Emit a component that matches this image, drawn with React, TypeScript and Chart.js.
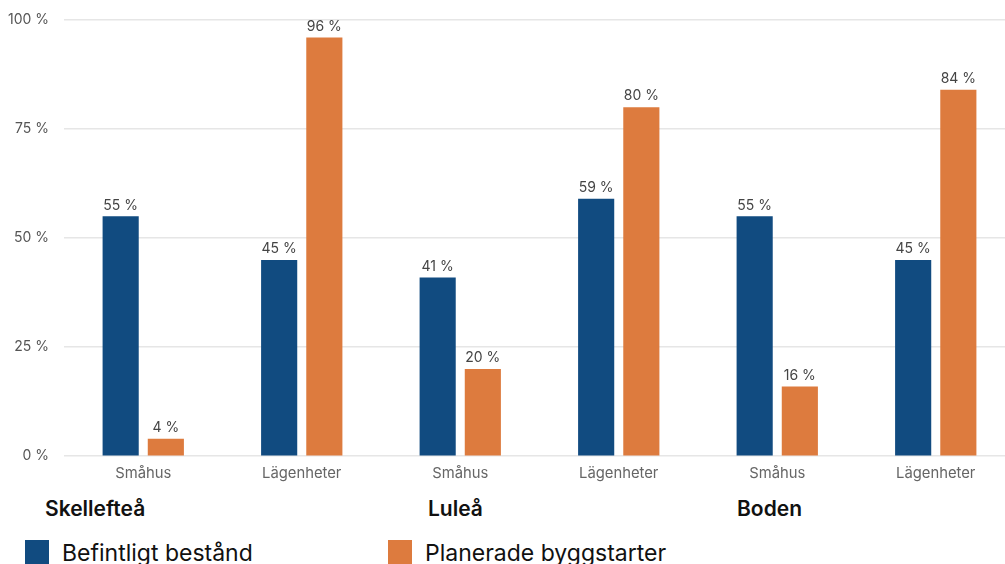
import React, { useEffect, useRef } from "react";
import { Chart, registerables } from "chart.js";

Chart.register(...registerables);

// Housing type on the x axis, two per municipality
const categories = ["Småhus", "Lägenheter", "Småhus", "Lägenheter", "Småhus", "Lägenheter"];
const municipalities = ["Skellefteå", "Luleå", "Boden"];

// Share in percent
const befintligt = [55, 45, 41, 59, 55, 45];
const planerade = [4, 96, 20, 80, 16, 84];

const seriesNames = ["Befintligt bestånd", "Planerade byggstarter"];
const seriesColors = ["#114b80", "#dd7b3e"];

const yTicks = [0, 25, 50, 75, 100];

const FONT = "Inter, 'Noto Sans', sans-serif";

// Horizontal placement of the municipality captions and legend items
const captionLeft = [45, 428, 737];
const legendLeft = [25, 388];

const valueLabels = {
  id: "valueLabels",
  afterDatasetsDraw(chart: any) {
    const ctx = chart.ctx;
    ctx.save();
    ctx.font = `400 14px ${FONT}`;
    ctx.fillStyle = "#444444";
    ctx.textAlign = "center";
    ctx.textBaseline = "bottom";
    chart.data.datasets.forEach((ds: any, i: number) => {
      const meta = chart.getDatasetMeta(i);
      meta.data.forEach((bar: any, j: number) => {
        ctx.fillText(`${ds.data[j]} %`, bar.x, bar.y - 4);
      });
    });
    ctx.restore();
  },
};

function BarChart() {
  const ref = useRef<HTMLCanvasElement>(null);

  useEffect(() => {
    if (!ref.current) return;
    const chart = new Chart(ref.current, {
      type: "bar",
      data: {
        labels: categories,
        datasets: [
          {
            label: seriesNames[0],
            data: befintligt,
            backgroundColor: seriesColors[0],
            categoryPercentage: 0.57,
            barPercentage: 0.8,
          },
          {
            label: seriesNames[1],
            data: planerade,
            backgroundColor: seriesColors[1],
            categoryPercentage: 0.57,
            barPercentage: 0.8,
          },
        ],
      },
      options: {
        responsive: false,
        animation: false,
        layout: { autoPadding: false, padding: { left: 8, top: 20, right: 0, bottom: 0 } },
        plugins: {
          legend: { display: false },
          tooltip: { enabled: false },
        },
        scales: {
          x: {
            grid: { display: false, drawTicks: false },
            border: { display: false },
            ticks: {
              color: "#666666",
              font: { family: FONT, size: 14.8 },
              padding: 8,
            },
          },
          y: {
            min: 0,
            max: 100,
            afterBuildTicks(axis: any) {
              axis.ticks = yTicks.map((v) => ({ value: v }));
            },
            afterFit(axis: any) {
              axis.width = 56;
              axis.paddingTop = 0;
              axis.paddingBottom = 0;
            },
            grid: { color: "#e6e6e6", lineWidth: 1.5, drawTicks: false },
            border: { display: false },
            ticks: {
              color: "#555555",
              font: { family: FONT, size: 14 },
              padding: 15,
              callback: (v: any) => `${v} %`,
            },
          },
        },
      },
      plugins: [valueLabels],
    });
    return () => chart.destroy();
  }, []);

  return <canvas ref={ref} width={1015} height={490} style={{ display: "block" }} />;
}

export default function App() {
  return (
    <div
      style={{
        position: "fixed",
        left: 0,
        top: 0,
        width: 1005,
        height: 564,
        overflow: "hidden",
        background: "#ffffff",
        fontFamily: FONT,
      }}
    >
      <div style={{ position: "absolute", left: 0, top: 0, width: 1015, height: 490 }}>
        <BarChart />
      </div>
      {municipalities.map((m, i) => (
        <div
          key={m}
          style={{
            position: "absolute",
            left: captionLeft[i],
            top: 496,
            fontSize: 21,
            fontWeight: 600,
            color: "#111111",
            lineHeight: "25px",
            whiteSpace: "nowrap",
          }}
        >
          {m}
        </div>
      ))}
      {seriesNames.map((name, i) => (
        <div
          key={name}
          style={{
            position: "absolute",
            left: legendLeft[i],
            top: 540,
            display: "flex",
            alignItems: "flex-start",
            whiteSpace: "nowrap",
          }}
        >
          <span
            style={{
              display: "inline-block",
              width: 24,
              height: 24,
              background: seriesColors[i],
              marginRight: 13,
            }}
          />
          <span style={{ fontSize: 23, lineHeight: "26px", color: "#111111" }}>{name}</span>
        </div>
      ))}
    </div>
  );
}
